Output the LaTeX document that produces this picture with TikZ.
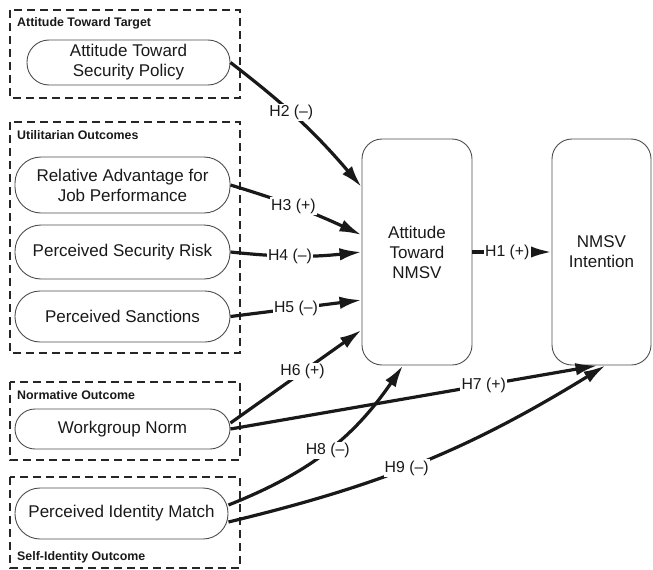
\documentclass[tikz,border=0pt]{standalone}
\usepackage{fontspec}
\setmainfont{Liberation Sans}
\usetikzlibrary{arrows.meta}

\begin{document}
\begin{tikzpicture}[x=1pt,y=-1pt,
  every node/.style={inner sep=0pt, text=black!90},
  group/.style={draw=black!85, line width=1.3pt, dash pattern=on 8pt off 5pt},
  grouptitle/.style={anchor=base west, font=\fontsize{12.4}{14}\selectfont\bfseries},
  construct/.style={draw=black!70, line width=0.9pt, align=center,
    font=\fontsize{17}{20}\selectfont},
  bigbox/.style={draw=black!70, line width=0.9pt, align=center, rounded corners=20pt,
    minimum width=#1, minimum height=226pt, font=\fontsize{17}{20}\selectfont},
  hpath/.style={line width=3.2pt, draw=black!90,
    -{Latex[length=22pt,width=12.5pt]}},
  hyp/.style={fill=white, inner sep=1.2pt, font=\fontsize{15.8}{18}\selectfont}
]
\useasboundingbox (0,0) rectangle (653,570);

% construct groups
\draw[group] (10,10) rectangle (240,98);
\draw[group] (10,122) rectangle (240,353);
\draw[group] (10,382) rectangle (240,460);
\draw[group] (10,477) rectangle (240,568);

\node[grouptitle] (t1) at (17,27) {Attitude Toward Target};
\node[grouptitle] (t2) at (17,139) {Utilitarian Outcomes};
\node[grouptitle] (t3) at (17,399) {Normative Outcome};
\node[grouptitle] (t4) at (17,560) {Self-Identity Outcome};

% antecedent constructs
\node[construct, minimum width=203pt, minimum height=45pt, rounded corners=22pt]
  (asp) at (128.5,62.5) {Attitude Toward\\Security Policy};
\node[construct, minimum width=215pt, minimum height=56pt, rounded corners=26pt]
  (rel) at (122.5,185) {Relative Advantage for\\Job Performance};
\node[construct, minimum width=215pt, minimum height=54pt, rounded corners=26pt]
  (risk) at (122.5,252) {Perceived Security Risk};
\node[construct, minimum width=215pt, minimum height=51pt, rounded corners=25pt]
  (sanc) at (122.5,316.5) {Perceived Sanctions};
\node[construct, minimum width=215pt, minimum height=40pt, rounded corners=20pt]
  (norm) at (122.5,429) {Workgroup Norm};
\node[construct, minimum width=213pt, minimum height=51pt, rounded corners=25pt]
  (pim) at (121.5,513.5) {Perceived Identity Match};

% outcome constructs
\node[bigbox=110pt] (att) at (417,252) {Attitude\\Toward\\NMSV};
\node[bigbox=99pt] (int) at (601.5,252) {NMSV\\Intention};

% hypothesised paths
\draw[hpath] (asp.east) to[bend left=6]
  node[hyp, pos=0.43] {H2 (--)} ([yshift=65pt]att.west);
\draw[hpath] (rel.east) to[bend left=4]
  node[hyp, pos=0.47] {H3 (+)} ([yshift=17pt]att.west);
\draw[hpath] (risk.east) to[bend right=6]
  node[hyp, pos=0.45] {H4 (--)} (att.west);
\draw[hpath] (sanc.east) --
  node[hyp, pos=0.5] {H5 (--)} ([yshift=-48pt]att.west);
\draw[hpath] ([yshift=6pt]norm.east) --
  node[hyp, pos=0.55] {H6 (+)} ([yshift=-78pt]att.west);
\draw[hpath] (norm.east) --
  node[hyp, pos=0.69] {H7 (+)} ([xshift=-4pt]int.south);
\draw[hpath] ([yshift=8.5pt]pim.east) to[bend right=17]
  node[hyp, pos=0.5] {H8 (--)} ([xshift=-14pt]att.south);
\draw[hpath] ([yshift=-8.5pt]pim.east) to[bend right=9]
  node[hyp, pos=0.45] {H9 (--)} ([xshift=4pt]int.south);
\draw[hpath] (att.east) --
  node[hyp, pos=0.44] {H1 (+)} (int.west);
\end{tikzpicture}
\end{document}
